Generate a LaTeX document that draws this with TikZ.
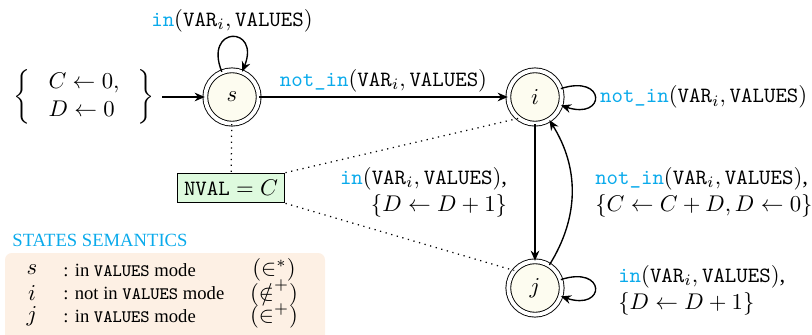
\documentclass[tikz,border=0pt]{standalone}
\usepackage[no-math]{fontspec}
\setmainfont{Liberation Serif}
\usetikzlibrary{arrows.meta,automata}
\definecolor{kw}{RGB}{10,170,235}
\definecolor{statefill}{RGB}{253,252,240}
\definecolor{invfill}{RGB}{222,250,222}
\definecolor{semfill}{RGB}{253,240,228}
% typewriter pieces
\newcommand{\tto}[1]{\mbox{\fontsize{9.6pt}{11pt}\selectfont\ttfamily #1}}
\newcommand{\kwd}[1]{\textcolor{kw}{\tto{#1}}}
\newcommand{\cnd}[1]{\kwd{#1}(\tto{VAR}_i,\tto{VALUES})}
\newcommand{\semtt}[1]{{\fontsize{7.7pt}{9pt}\selectfont\ttfamily #1}}
\begin{document}
\begin{tikzpicture}[x=0.44pt,y=-0.44pt,
  st/.style={circle,draw,double,double distance=1.7pt,fill=statefill,
    minimum size=23.5pt,inner sep=0pt},
  tr/.style={-{Stealth[length=4.5pt,width=3.8pt]},semithick},
  dots/.style={line width=0.55pt,dash pattern=on 0.55pt off 2pt},
  lbl/.style={inner sep=2pt},
  semtxt/.style={anchor=west,font=\fontsize{8.2pt}{9pt}\selectfont,inner sep=0pt},
  semmath/.style={inner sep=0pt}]
\useasboundingbox (0,0) rectangle (812,335);

% states
\node[st] (s) at (232,97) {$s$};
\node[st] (i) at (535,97) {$i$};
\node[st] (j) at (535,288) {$j$};

% initial assignments
\node (init) at (84,97)
  {$\left\{\;\begin{array}{l}C\leftarrow 0,\\ D\leftarrow 0\end{array}\;\right\}$};
\draw[tr] (init) -- (s);

% transitions
\draw[tr] (s) edge[out=112,in=68,looseness=1,min distance=22pt]
  node[lbl,above] {$\cnd{in}$} (s);
\draw[tr] (s) -- node[lbl,above] {$\cnd{not\_in}$} (i);
\draw[tr] (i) edge[out=18,in=-18,looseness=1,min distance=21pt]
  node[lbl,right] {$\cnd{not\_in}$} (i);
\draw[tr] (i) -- node[lbl,left=10pt,align=right]
  {$\cnd{in}$,\\ $\{D\leftarrow D+1\}$} (j);
\draw[tr] (j) to[bend right=32] node[lbl,right=8pt,align=left]
  {$\cnd{not\_in}$,\\ $\{C\leftarrow C+D,D\leftarrow 0\}$} (i);
\draw[tr] (j) edge[out=18,in=-18,looseness=1,min distance=21pt]
  node[lbl,right=8pt,align=left,yshift=-1pt]
  {$\cnd{in}$,\\ $\{D\leftarrow D+1\}$} (j);

% invariant
\node[draw,semithick,fill=invfill,inner sep=3pt] (nval) at (231,188)
  {$\tto{NVAL}=C$};
\draw[dots] (s) -- (nval);
\draw[dots] (nval.north east) -- (i.232);
\draw[dots] (nval.south east) -- (j.140);

% states semantics
\node[semtxt,text=kw] (semtitle) at (12,240) {STATES SEMANTICS};
\fill[semfill,rounded corners=3pt] (5,253) rectangle (325,350);
\node[semmath] (sems) at (32,270) {$s$};
\node[semmath] (semi) at (32,293) {$i$};
\node[semmath] (semj) at (32,316) {$j$};
\node[semtxt] (tsems) at (63,270) {: in \semtt{VALUES} mode};
\node[semtxt] (tsemi) at (63,293) {: not in \semtt{VALUES} mode};
\node[semtxt] (tsemj) at (63,316) {: in \semtt{VALUES} mode};
\node[semmath] (psems) at (274,270) {$(\in^{*})$};
\node[semmath] (psemi) at (274,293) {$(\notin^{+})$};
\node[semmath] (psemj) at (274,316) {$(\in^{+})$};
\end{tikzpicture}
\end{document}
